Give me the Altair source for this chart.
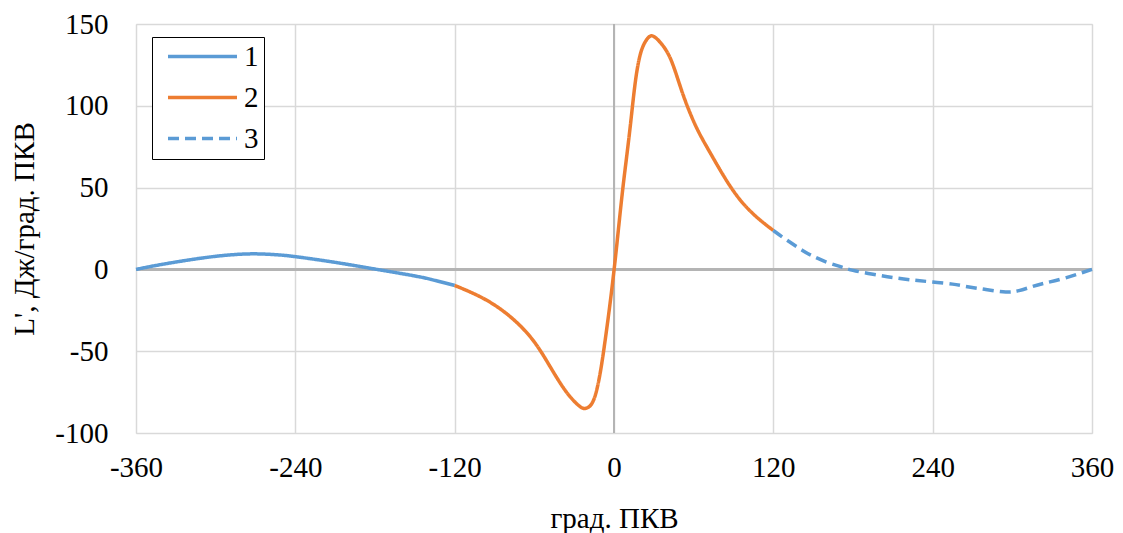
import altair as alt
import pandas as pd

# Series 1 (solid blue)
x1 = [-360, -345, -330, -315, -300, -285, -270, -255, -240, -210, -180, -150, -135, -120]
y1 = [0, 2.4, 4.5, 6.4, 8.0, 9.1, 9.5, 9.0, 7.8, 4.3, 0.2, -4.0, -6.7, -9.8]

# Series 2 (orange)
x2 = [-120, -98, -78, -61, -48, -36, -27, -22, -16, -11, -7, -3, 0, 2.5, 6.3, 10, 13, 16.3, 20, 23.9, 27.6, 31, 35, 42.7, 51.5, 61.5, 71.5, 84, 96.5, 109, 120]
y2 = [-9.8, -17.9, -29, -43.3, -59.6, -74.8, -82.9, -85, -81, -66, -45.3, -21, -0.6, 18, 47, 72, 93, 116, 132, 139.6, 142.7, 141.8, 138.6, 128.5, 108, 87.8, 72.6, 55.3, 41, 30.9, 23.8]

# Series 3 (dashed blue)
x3 = [120, 130, 142, 150, 160, 170, 180, 195, 210, 225, 240, 255, 265, 280, 295, 305, 315, 325, 340, 360]
y3 = [23.8, 18, 11.6, 8, 4.5, 1.8, -0.6, -3, -5, -6.5, -7.7, -9, -10.4, -12.3, -13.8, -13, -10.5, -8.3, -5.2, 0]

series_names = ["1", "2", "3"]
colors = ["#5b9bd5", "#ed7d31", "#5b9bd5"]
dashes = [[1, 0], [1, 0], [11, 6]]

x_ticks = [-360, -240, -120, 0, 120, 240, 360]
y_ticks = [-100, -50, 0, 50, 100, 150]

rows = []
for name, xs, ys in zip(series_names, [x1, x2, x3], [y1, y2, y3]):
    for i, (a, b) in enumerate(zip(xs, ys)):
        rows.append({"x": a, "y": b, "s": name, "o": i})
df = pd.DataFrame(rows)

FONT = "Liberation Serif"
FS = 29

xscale = alt.Scale(domain=[-360, 360], nice=False, zero=False)
yscale = alt.Scale(domain=[-100, 150], nice=False, zero=False)

xaxis = alt.Axis(values=x_ticks, title="град. ПКВ", grid=True, ticks=False, domain=False,
                 labelExpr="'' + datum.value",
                 labelFont=FONT, labelFontSize=FS, labelColor="#000000", labelPadding=20,
                 titleFont=FONT, titleFontSize=FS, titleFontWeight="normal", titleColor="#000000",
                 titleY=94, titleBaseline="alphabetic",
                 gridColor="#d9d9d9", gridWidth=1.5, labelFlush=False)
yaxis = alt.Axis(values=y_ticks, title="L', Дж/град. ПКВ", grid=True, ticks=False, domain=False,
                 labelExpr="'' + datum.value",
                 labelFont=FONT, labelFontSize=FS, labelColor="#000000", labelPadding=28,
                 titleFont=FONT, titleFontSize=FS, titleFontWeight="normal", titleColor="#000000",
                 titleX=-112, titleY=204.5, titleBaseline="middle", titleAngle=-90,
                 gridColor="#d9d9d9", gridWidth=1.5, labelFlush=False)

legend_opts = dict(title=None, orient="none", legendX=16, legendY=13,
                   symbolType="M-3,0H3", symbolSize=529, symbolStrokeWidth=3.5,
                   labelFont=FONT, labelFontSize=FS, labelColor="#000000",
                   labelOffset=27, padding=5, symbolOffset=31, rowPadding=11,
                   strokeColor="#000000", fillColor="#ffffff")

zero_h = alt.Chart(df).mark_rule(color="#b4b4b4", strokeWidth=2).encode(
    y=alt.datum(0, scale=yscale))
zero_v = alt.Chart(df).mark_rule(color="#b4b4b4", strokeWidth=2).encode(
    x=alt.datum(0, scale=xscale))

lines = alt.Chart(df).mark_line(strokeWidth=3.5, interpolate="natural").encode(
    x=alt.X("x:Q", scale=xscale, axis=xaxis),
    y=alt.Y("y:Q", scale=yscale, axis=yaxis),
    color=alt.Color("s:N", scale=alt.Scale(domain=series_names, range=colors),
                    legend=alt.Legend(**legend_opts)),
    strokeDash=alt.StrokeDash("s:N", scale=alt.Scale(domain=series_names, range=dashes),
                              legend=alt.Legend(**legend_opts)),
    order="o:Q",
    detail="s:N",
)

chart = alt.layer(zero_h, zero_v, lines).properties(
    width=956, height=409,
    autosize=alt.AutoSizeParams(type="none"),
    padding={"left": 128, "top": 16, "right": 23, "bottom": 100},
).configure_view(stroke="#bfbfbf", strokeWidth=2).configure(background="#ffffff")

chart.save("out.html", embed_options={"renderer": "svg", "actions": False})
